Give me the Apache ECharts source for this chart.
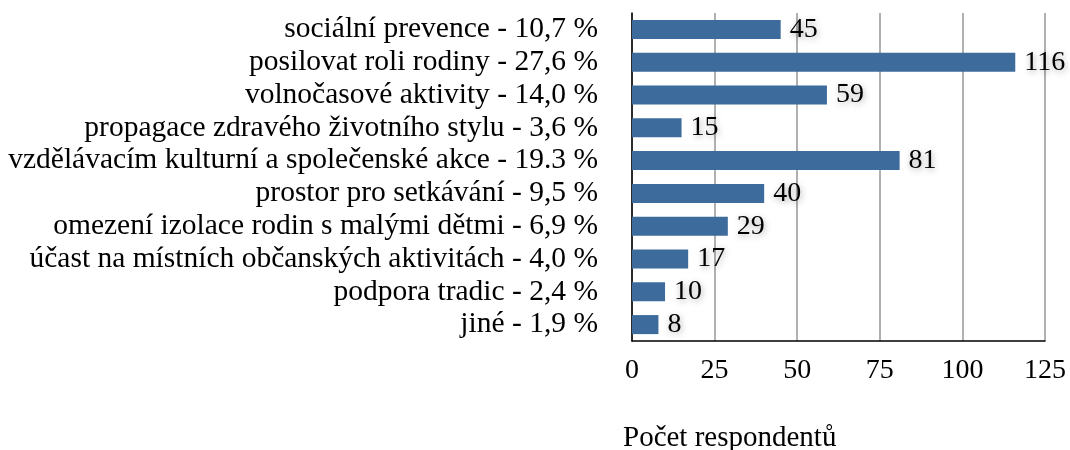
<!DOCTYPE html>
<html lang="cs">
<head>
    <meta charset="UTF-8">
    <script src="https://cdn.jsdelivr.net/npm/echarts@6/dist/echarts.min.js"></script>
    <title>Počet respondentů</title>
    <style>
        body { margin: 0; background: #fff; }
    </style>
</head>
<body>
    <div id="main" style="width: 1070px;height:450px;"></div>
<script type="text/javascript">
    // kategorie shora dolů
    var categories = [
        'sociální prevence - 10,7 %',
        'posilovat roli rodiny - 27,6 %',
        'volnočasové aktivity - 14,0 %',
        'propagace zdravého životního stylu - 3,6 %',
        'vzdělávacím kulturní a společenské akce - 19.3 %',
        'prostor pro setkávání - 9,5 %',
        'omezení izolace rodin s malými dětmi - 6,9 %',
        'účast na místních občanských aktivitách - 4,0 %',
        'podpora tradic - 2,4 %',
        'jiné - 1,9 %'
    ];
    var counts = [45, 116, 59, 15, 81, 40, 29, 17, 10, 8];
    var xTicks = [0, 25, 50, 75, 100, 125];

    var font = '"Liberation Serif", "DejaVu Serif", serif';
    var chart = echarts.init(document.getElementById('main'));

    var option = {
        animation: false,
        textStyle: { fontFamily: font },
        title: {
            text: 'Počet respondentů',
            left: 618,
            top: 419,
            textStyle: { fontFamily: font, fontSize: 29, fontWeight: 'normal', color: '#000' }
        },
        grid: { left: 632, right: 25, top: 13, bottom: 109, containLabel: false },
        xAxis: {
            type: 'value',
            min: xTicks[0],
            max: xTicks[xTicks.length - 1],
            interval: 25,
            axisLine: { show: true, lineStyle: { color: '#000', width: 1.5 } },
            axisTick: { show: false },
            axisLabel: { color: '#000', fontSize: 28, fontFamily: font, margin: 16 },
            splitLine: { show: true, lineStyle: { color: '#b0b0b0', width: 2 } }
        },
        yAxis: {
            type: 'category',
            inverse: true,
            data: categories,
            axisLine: { show: true, lineStyle: { color: '#000', width: 1.5 } },
            axisTick: { show: false },
            axisLabel: { color: '#000', fontSize: 29.5, fontFamily: font, margin: 34, interval: 0 }
        },
        series: [{
            type: 'bar',
            data: counts,
            barCategoryGap: '42%',
            itemStyle: { color: '#3d6b9b' },
            label: {
                show: true,
                position: 'right',
                distance: 9,
                color: '#000',
                fontSize: 28,
                fontFamily: font,
                textShadowColor: 'rgba(0,0,0,0.35)',
                textShadowBlur: 6,
                textShadowOffsetX: 1,
                textShadowOffsetY: 2
            }
        }]
    };

    chart.setOption(option);
</script>
</body>
</html>
